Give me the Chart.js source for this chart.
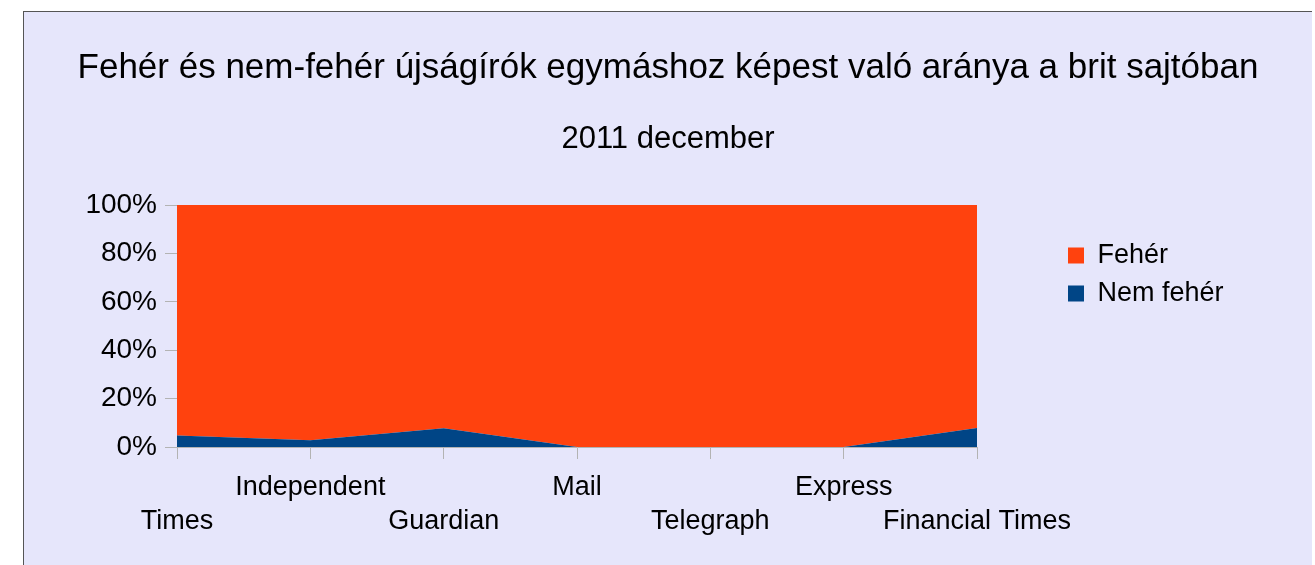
<!DOCTYPE html>
<html>
<head>
<meta charset="utf-8">
<script src="https://cdn.jsdelivr.net/npm/chart.js@4/dist/chart.umd.min.js"></script>
<style>
  body { margin: 0; background: #ffffff; }
  #frame {
    position: absolute; left: 23px; top: 11px;
    width: 1288px; height: 560px;
    border-top: 1px solid #555; border-left: 1px solid #555;
    background: #e6e6fb;
  }
  #chart { position: absolute; left: 0; top: 0; }
</style>
</head>
<body>
<div id="frame"><canvas id="chart" width="1288" height="554"></canvas></div>
<script>
// Lapok (x tengely)
const papers = ['Times', 'Independent', 'Guardian', 'Mail', 'Telegraph', 'Express', 'Financial Times'];
// Nem fehér újságírók aránya (%)
const nonWhite = [4.8, 2.8, 7.7, 0, 0, 0, 7.9];
// Fehér újságírók aránya (%)
const white = [95.2, 97.2, 92.3, 100, 100, 100, 92.1];
const yTicks = [0, 20, 40, 60, 80, 100];

const font = 'Liberation Sans, Arial, sans-serif';

// widen the legend box and move it where the original has it
const legendPlace = {
    id: 'legendPlace',
    beforeInit(chart) {
        const fit = chart.legend.fit;
        chart.legend.fit = function () {
            fit.call(this);
            this.width = 335;
        };
    },
    afterLayout(chart) {
        chart.legend.left = 1033;
        chart.legend.top = 219;
    }
};

new Chart(document.getElementById('chart'), {
    type: 'line',
    data: {
        labels: papers,
        datasets: [{
            label: 'Nem fehér',
            data: nonWhite,
            backgroundColor: '#004586',
            borderWidth: 0,
            pointRadius: 0,
            fill: 'origin'
        }, {
            label: 'Fehér',
            data: white,
            backgroundColor: '#ff420e',
            borderWidth: 0,
            pointRadius: 0,
            fill: '-1'
        }]
    },
    options: {
        responsive: false,
        animation: false,
        layout: { padding: 0 },
        plugins: {
            title: {
                display: true,
                text: 'Fehér és nem-fehér újságírók egymáshoz képest való aránya a brit sajtóban',
                color: '#000',
                font: { family: font, size: 35, weight: 'normal' },
                padding: { top: 35, bottom: 0 }
            },
            subtitle: {
                display: true,
                text: '2011 december',
                color: '#000',
                font: { family: font, size: 31, weight: 'normal' },
                padding: { top: 31.4, bottom: 47.4 }
            },
            legend: {
                position: 'right',
                align: 'start',
                reverse: true,
                labels: {
                    color: '#000',
                    font: { family: font, size: 27 },
                    boxWidth: 16,
                    boxHeight: 16,
                    padding: 11
                }
            },
            tooltip: { enabled: false }
        },
        scales: {
            x: {
                offset: false,
                afterFit(scale) { scale.height = 119; },
                grid: { drawOnChartArea: false, tickLength: 12, color: '#b3b3b3' },
                border: { color: '#b3b3b3' },
                ticks: {
                    autoSkip: false,
                    maxRotation: 0,
                    padding: 12,
                    color: '#000',
                    font: { family: font, size: 27, lineHeight: 1.26 },
                    callback(value, index) {
                        const name = papers[index];
                        return index % 2 === 0 ? ['', name] : [name, ''];
                    }
                }
            },
            y: {
                stacked: true,
                min: 0,
                max: 100,
                afterFit(scale) { scale.width = 153; },
                afterBuildTicks(scale) { scale.ticks = yTicks.map(v => ({ value: v })); },
                grid: { drawOnChartArea: false, tickLength: 12, color: '#b3b3b3' },
                border: { color: '#b3b3b3' },
                ticks: {
                    padding: 8,
                    color: '#000',
                    font: { family: font, size: 28 },
                    callback: v => v + '%'
                }
            }
        }
    },
    plugins: [legendPlace]
});
</script>
</body>
</html>
